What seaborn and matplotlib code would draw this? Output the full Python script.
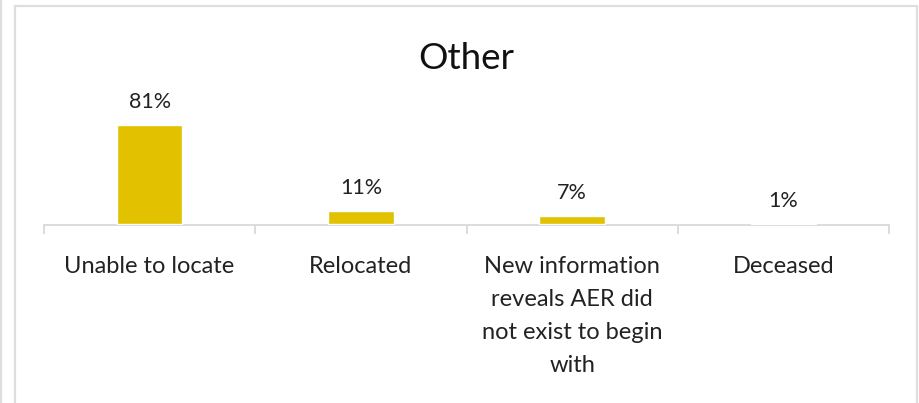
import matplotlib.pyplot as plt
import seaborn as sns
from matplotlib.lines import Line2D

# Data
categories = ["Unable to locate", "Relocated",
              "New information reveals AER did not exist to begin with", "Deceased"]
tick_labels = ["Unable to locate", "Relocated",
               "New information\nreveals AER did\nnot exist to begin\nwith", "Deceased"]
values = [81, 11, 7, 1]

W, H = 919, 403
sns.set_theme(style="white")
plt.rcParams["font.family"] = ["Lato", "DejaVu Sans"]

fig = plt.figure(figsize=(W / 100, H / 100), dpi=100)
fig.patch.set_facecolor("white")

# axes placed in pixel terms: x 44..889, baseline at y=225, 100% at y=101.5
ax = fig.add_axes([44 / W, 1 - 225 / H, (889 - 44) / W, (225 - 101.5) / H])

sns.barplot(x=categories, y=values, color="#E1C100", width=0.31,
            saturation=1, ax=ax)

ax.set_ylim(-0.6, 100)
ax.set_xlim(-0.5, len(categories) - 0.5)
ax.set_yticks([])
ax.set_ylabel("")
ax.set_xlabel("")

# keep the tiny 1% bar visible above the baseline
for bar in ax.containers[0]:
    bar.set_zorder(3)

for lbl in ax.bar_label(ax.containers[0], fmt="%d%%", padding=9):
    lbl.set_fontsize(15.5)
    lbl.set_color("#222222")

ax.set_xticks(range(len(categories)))
ax.set_xticklabels(tick_labels, fontsize=17, color="#222222", linespacing=1.7)
ax.tick_params(axis="x", which="major", length=0, pad=22.5)
ax.set_xticks([i - 0.5 for i in range(len(categories) + 1)], minor=True)
ax.tick_params(axis="x", which="minor", bottom=True, length=6.5, width=1.3,
               color="#d9d9d9")

for side in ["top", "left", "right"]:
    ax.spines[side].set_visible(False)
ax.spines["bottom"].set_color("#d9d9d9")
ax.spines["bottom"].set_linewidth(1.3)

ax.set_title("Other", fontsize=26.5, color="#111111", pad=23.5)

# chart frame
frame = dict(color="#dedede", lw=1.6, transform=fig.transFigure)
x0, x1, y0 = 14.5 / W, 917 / W, 1 - 5.5 / H
fig.add_artist(Line2D([x0, x1], [y0, y0], **frame))
fig.add_artist(Line2D([x0, x0], [0, y0], **frame))
fig.add_artist(Line2D([x1, x1], [0, y0], **frame))
fig.add_artist(Line2D([1 / W, 1 / W], [0, 1], **frame))

fig.savefig("out.png", dpi=100, facecolor="white")
